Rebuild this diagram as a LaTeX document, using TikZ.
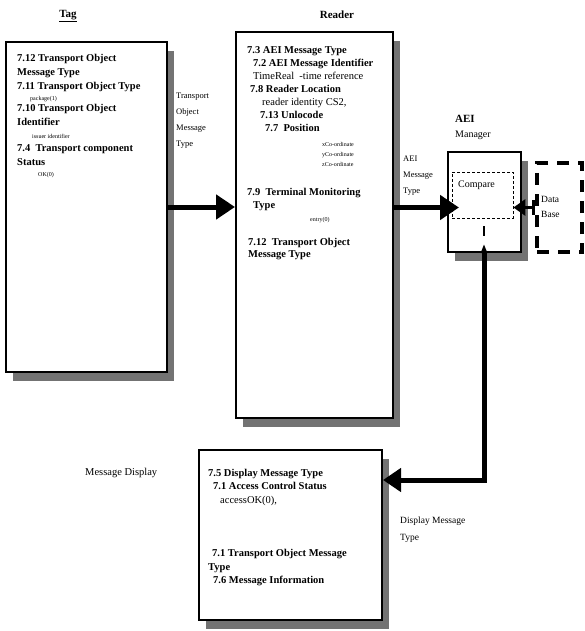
\documentclass[tikz,border=0pt]{standalone}
\usepackage{fontspec}
\setmainfont{Liberation Serif}
\definecolor{shadegray}{RGB}{115,115,115}
\usetikzlibrary{arrows.meta,shadows}
\tikzset{
  panel/.style={draw=black, line width=2pt, fill=white, drop shadow={shadow xshift=7pt, shadow yshift=-9pt, fill=shadegray, opacity=1}},
  body/.style={anchor=north west, inner sep=0pt, align=left, font=\fontsize{10.5}{14}\selectfont\bfseries},
  note/.style={anchor=north west, inner sep=0pt, align=left, font=\fontsize{8.5}{16}\selectfont},
  heading/.style={inner sep=0pt, font=\fontsize{11}{13}\selectfont\bfseries},
  flow/.style={line width=5pt, -{Triangle[length=19pt,width=24pt]}},
}
\newcommand{\sm}[1]{{\fontsize{6}{7}\selectfont\mdseries #1}}

\begin{document}
\begin{tikzpicture}[x=1pt, y=-1pt]
  \useasboundingbox (0,0) rectangle (585,631);
  % Headings
  \node[heading] (tagtitle) at (68,16) {\underline{Tag}};
  \node[heading] (readertitle) at (337,15) {Reader};
  \node[anchor=north west, inner sep=0pt, align=left, font=\fontsize{10}{15}\selectfont] (mgrtitle) at (455,115) {{\fontsize{11}{13}\selectfont\bfseries AEI}\\Manager};
  \node[anchor=west, inner sep=0pt, font=\fontsize{10.5}{13}\selectfont] (disptitle) at (85,473) {Message Display};
  % Boxes
  \node[panel, minimum width=161pt, minimum height=330pt] (tag) at (86.5,207) {};
  \node[panel, minimum width=157pt, minimum height=386pt] (reader) at (314.5,225) {};
  \node[panel, minimum width=73pt, minimum height=100pt] (mgr) at (484.5,202) {};
  \node[draw, densely dashed, line width=0.8pt, minimum width=61pt, minimum height=46pt] (cmp) at (482.5,195) {};
  \node[draw, line width=3.5pt, dash pattern=on 12pt off 9pt, minimum width=45pt, minimum height=89pt] (db) at (559.5,207.5) {};
  \node[panel, minimum width=183pt, minimum height=170pt] (disp) at (290.5,535) {};
  % Box texts
  \node[body] (tagtxt) at (17,54) {7.12 Transport Object\\
    Message Type\\
    7.11 Transport Object Type\\[-3pt]
    \hspace*{13pt}\sm{package(1)}\\[-3pt]
    7.10 Transport Object\\
    Identifier\\[-1pt]
    \hspace*{15pt}\sm{issuer identifier}\\[-1pt]
    7.4\ \ Transport component\\
    Status\\[-3pt]
    \hspace*{21pt}\sm{OK(0)}};
  \node[body, font=\fontsize{10.5}{13}\selectfont\bfseries] (readertxt) at (247,46) {7.3 AEI Message Type\\
    \hspace*{6pt}7.2 AEI Message Identifier\\
    \hspace*{6pt}{\mdseries TimeReal\ \ -time reference}\\
    \hspace*{3pt}7.8 Reader Location\\
    \hspace*{15pt}{\mdseries reader identity CS2,}\\
    \hspace*{13pt}7.13 Unlocode\\
    \hspace*{18pt}7.7\ \ Position\\[2pt]
    \hspace*{75pt}\sm{xCo-ordinate}\\[-3pt]
    \hspace*{75pt}\sm{yCo-ordinate}\\[-3pt]
    \hspace*{75pt}\sm{zCo-ordinate}\\[16pt]
    7.9\ \ Terminal Monitoring\\
    \hspace*{6pt}Type\\
    \hspace*{63pt}\sm{entry(0)}\\[11pt]
    \hspace*{1pt}7.12\ \ Transport Object\\[-1pt]
    \hspace*{1pt}Message Type};
  \node[body, font=\fontsize{10.5}{13.5}\selectfont\bfseries] (disptxt) at (208,469) {7.5 Display Message Type\\
    \hspace*{5pt}7.1 Access Control Status\\
    \hspace*{12pt}{\mdseries accessOK(0),}\\[40pt]
    \hspace*{4pt}7.1 Transport Object Message\\
    Type\\
    \hspace*{5pt}7.6 Message Information};
  \node[anchor=north west, inner sep=0pt, font=\fontsize{10}{12}\selectfont] (cmptxt) at (458,181) {Compare};
  \node[anchor=west, inner sep=0pt, align=left, font=\fontsize{9.5}{15}\selectfont] (dbtxt) at (541,207) {Data\\Base};
  % Connector labels
  \node[note] (taglbl) at (176,93) {Transport\\Object\\Message\\Type};
  \node[note] (aeilbl) at (403,156) {AEI\\Message\\Type};
  \node[note, font=\fontsize{9.5}{17}\selectfont] (displbl) at (400,517) {Display Message\\Type};
  % Connectors
  \draw[flow] (tag.east) -- (tag.east -| reader.west);
  \draw[flow, shorten >=-12pt] (reader.east |- db.west) -- (db.west -| mgr.west);
  \draw[line width=3pt, {Bar[width=15pt]}-{Triangle[length=12pt,width=16pt]}] (db.west) -- (db.west -| cmp.east);
  \draw[line width=1.5pt] (484,226) -- (484,236);
  \coordinate (mgrtip) at (484,244);
  \coordinate (bend) at (484,480);
  \draw[flow, {Triangle[length=9pt,width=6pt]}-{Triangle[length=18pt,width=23pt]}] (mgrtip) -- (bend) -- (bend -| disp.east);
\end{tikzpicture}
\end{document}
